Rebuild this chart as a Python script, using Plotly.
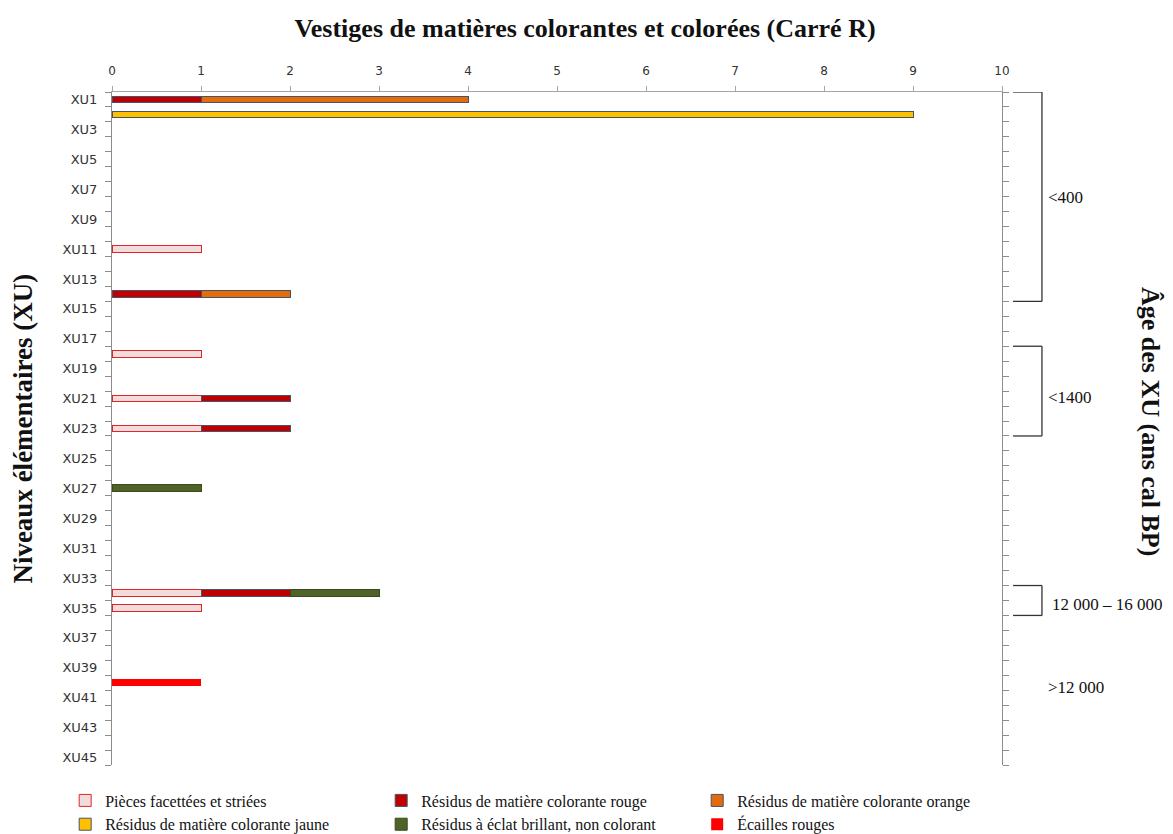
import plotly.graph_objects as go

# ---- data ----
levels = [f"XU{i}" for i in range(1, 46)]
tick_text = [lv if i % 2 == 0 else "" for i, lv in enumerate(levels)]

pieces_levels = ["XU11", "XU18", "XU21", "XU23", "XU34", "XU35"]
pieces_counts = [1, 1, 1, 1, 1, 1]

rouge_levels = ["XU1", "XU14", "XU21", "XU23", "XU34"]
rouge_counts = [1, 1, 1, 1, 1]

orange_levels = ["XU1", "XU14"]
orange_counts = [3, 1]

jaune_levels = ["XU2"]
jaune_counts = [9]

eclat_levels = ["XU27", "XU34"]
eclat_counts = [1, 1]

ecailles_levels = ["XU40"]
ecailles_counts = [1]

series = [
    ("Pièces facettées et striées", pieces_levels, pieces_counts, "#F2DCDB", "#E0262B", 1),
    ("Résidus de matière colorante rouge", rouge_levels, rouge_counts, "#C00000", "#44546A", 1),
    ("Résidus de matière colorante orange", orange_levels, orange_counts, "#E46C0A", "#44546A", 1),
    ("Résidus de matière colorante jaune", jaune_levels, jaune_counts, "#FFC000", "#44546A", 1),
    ("Résidus à éclat brillant, non colorant", eclat_levels, eclat_counts, "#4F6228", "#3A4A1C", 1),
    ("Écailles rouges", ecailles_levels, ecailles_counts, "#FF0000", "#FF0000", 0),
]

# age brackets: (label, first level, last level)
brackets = [
    ("<400", "XU1", "XU14"),
    ("<1400", "XU18", "XU23"),
    ("12 000 – 16 000", "XU34", "XU35"),
]
age_labels = [("<400", 6.55, 1.049), ("<1400", 19.9, 1.049),
              ("12 000 – 16 000", 33.8, 1.054), (">12 000", 39.3, 1.049)]

fig = go.Figure()
for name, lv, vals, fill, line, lw in series:
    fig.add_trace(go.Bar(
        y=lv, x=vals, name=name, orientation="h",
        marker=dict(color=fill, line=dict(color=line, width=lw)),
        width=0.45,
    ))

serif = "Liberation Serif"
sans = "DejaVu Sans"
for label, a, b in brackets:
    y0 = levels.index(a) - 0.5
    y1 = levels.index(b) + 0.5
    x0, x1 = 1.0124, 1.0449
    for (xa, ya, xb, yb) in [(x0, y0, x1, y0), (x1, y0, x1, y1), (x0, y1, x1, y1)]:
        fig.add_shape(type="line", xref="paper", yref="y", x0=xa, y0=ya, x1=xb, y1=yb,
                      line=dict(color="#333333", width=1.3))

for text, ypos, xpos in age_labels:
    fig.add_annotation(text=text, xref="paper", yref="y", x=xpos, y=ypos,
                       xanchor="left", yanchor="middle", showarrow=False,
                       font=dict(family=serif, size=17, color="#111111"))

fig.add_annotation(text="<b>Niveaux élémentaires (XU)</b>", xref="paper", yref="paper",
                   x=-0.101, y=0.50, textangle=-90, showarrow=False,
                   xanchor="center", yanchor="middle",
                   font=dict(family=serif, size=27, color="#111111"))
fig.add_annotation(text="<b>Âge des XU (ans cal BP)</b>", xref="paper", yref="paper",
                   x=1.166, y=0.51, textangle=90, showarrow=False,
                   xanchor="center", yanchor="middle",
                   font=dict(family=serif, size=26, color="#111111"))

W, H = 1165, 826
fig.update_layout(
    width=W, height=H,
    font=dict(family=serif, color="#111111"),
    margin=dict(l=104, r=W - 104 - 890, t=84, b=H - 84 - 673, autoexpand=False),
    paper_bgcolor="white", plot_bgcolor="white",
    barmode="stack",
    title=dict(text="<b>Vestiges de matières colorantes et colorées (Carré R)</b>",
               x=577 / W, xref="container", y=1 - 20 / H, yref="container",
               xanchor="center", yanchor="middle",
               font=dict(family=serif, size=26, color="#111111")),
    showlegend=True,
    legend=dict(orientation="h", x=-0.0526, xanchor="left", y=-0.0275, yanchor="top",
                entrywidth=271, entrywidthmode="pixels", traceorder="normal",
                font=dict(family=serif, size=16, color="#111111"),
                itemwidth=30, tracegroupgap=0),
)
fig.update_xaxes(
    side="top", range=[0, 10], dtick=1, tick0=0,
    showgrid=False, zeroline=False,
    showline=True, linecolor="#A6A6A6", linewidth=1,
    ticks="outside", ticklen=5, tickcolor="#A6A6A6",
    ticklabelstandoff=6,
    tickfont=dict(family=sans, size=12, color="#333333"),
)
fig.update_yaxes(
    type="category", categoryorder="array", categoryarray=levels,
    range=[44.5, -0.5],
    tickmode="array", tickvals=levels, ticktext=tick_text,
    tickson="boundaries", ticks="outside", ticklen=6, tickcolor="#8C8C8C",
    showline=True, linecolor="#8C8C8C", linewidth=1, mirror="ticks",
    showgrid=False, zeroline=False,
    ticklabelstandoff=11,
    tickfont=dict(family=sans, size=13, color="#333333"),
)

fig.write_html("out.html")
